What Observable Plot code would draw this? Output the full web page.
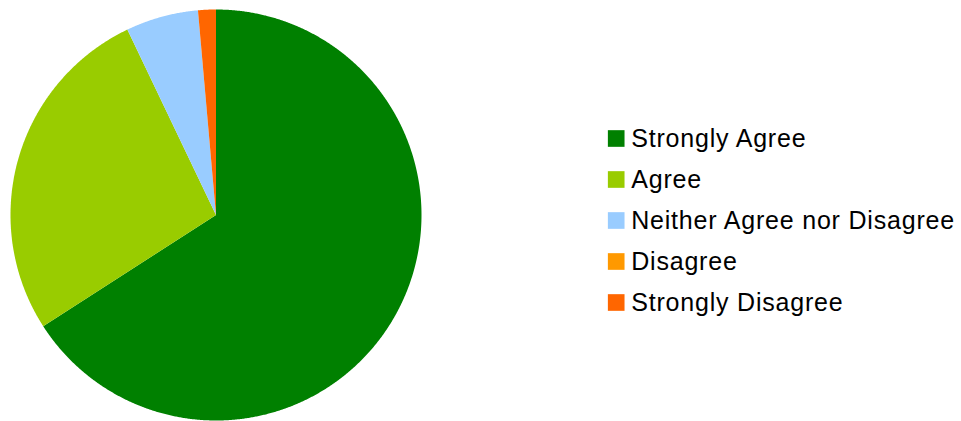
<!DOCTYPE html>
<html>
<head>
<meta charset="utf-8">
<script src="https://cdn.jsdelivr.net/npm/d3@7"></script>
<script src="https://cdn.jsdelivr.net/npm/@observablehq/plot@0.6"></script>
<style>
  html, body { margin: 0; padding: 0; background: #ffffff; }
  #chart { position: relative; width: 961px; height: 421px; overflow: hidden; }
  #chart > svg { position: absolute; left: 0; top: 0; }
</style>
</head>
<body>
<div id="chart"></div>
<script>
const categories = ["Strongly Agree", "Agree", "Neither Agree nor Disagree", "Disagree", "Strongly Disagree"];
const shares = [65.9, 27.0, 5.7, 0, 1.4];
const colors = ["#008000", "#99cc00", "#99ccff", "#ff9900", "#ff6600"];

// Build slice outlines (unit circle) from the pie layout of the shares
const arcs = d3.pie().sort(null).value(d => d)(shares);
const slicePoints = [];
arcs.forEach((a, i) => {
  if (a.endAngle - a.startAngle <= 0) return;
  const cat = categories[i];
  slicePoints.push({category: cat, x: 0, y: 0});
  const n = Math.max(2, Math.ceil((a.endAngle - a.startAngle) / 0.005));
  for (let k = 0; k <= n; ++k) {
    const t = a.startAngle + (a.endAngle - a.startAngle) * k / n;
    slicePoints.push({category: cat, x: Math.sin(t), y: Math.cos(t)});
  }
  slicePoints.push({category: cat, x: 0, y: 0});
});

const color = {domain: categories, range: colors};

const pie = Plot.plot({
  width: 961,
  height: 421,
  x: {domain: [-1, 1], range: [10, 421], axis: null},
  y: {domain: [-1, 1], range: [420, 9], axis: null},
  color,
  marks: [
    Plot.line(slicePoints, {x: "x", y: "y", z: "category", fill: "category", stroke: null, curve: "linear"})
  ]
});

const legend = Plot.plot({
  width: 961,
  height: 421,
  marginLeft: 615.7,
  marginRight: 0,
  marginTop: 0,
  marginBottom: 0,
  y: {type: "point", domain: categories, range: [136.3, 303.1], padding: 0, axis: null},
  color,
  style: {background: "transparent"},
  marks: [
    Plot.dot(categories, {y: d => d, fill: d => d, symbol: "square", r: 9.4, frameAnchor: "left", stroke: null}),
    Plot.text(categories, {y: d => d, text: d => d, frameAnchor: "left", textAnchor: "start", dx: 15, dy: 0,
      fontSize: 25, fontFamily: "Liberation Sans, Arial, sans-serif", fill: "#000"})
  ]
});
legend.style.letterSpacing = "0.8px";

const chart = document.getElementById("chart");
chart.appendChild(pie);
chart.appendChild(legend);
</script>
</body>
</html>
